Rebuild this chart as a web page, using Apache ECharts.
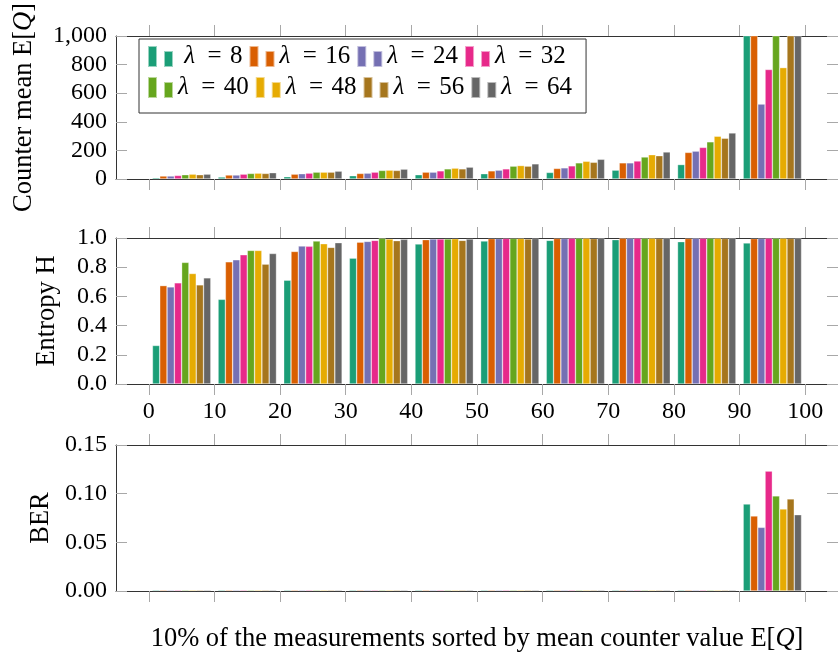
<!DOCTYPE html>
<html>
<head>
<meta charset="utf-8">
<script src="https://cdn.jsdelivr.net/npm/echarts@6/dist/echarts.min.js"></script>
<style>
  html, body { margin: 0; padding: 0; background: #fff; }
  #chart { width: 838px; height: 656px; }
</style>
</head>
<body>
<div id="chart"></div>
<script>
// Bin centres on the x axis (each bin holds 10% of the measurements)
const binCenters = [5, 15, 25, 35, 45, 55, 65, 75, 85, 95];
const lambdas = [8, 16, 24, 32, 40, 48, 56, 64];
const xTicks = [0, 10, 20, 30, 40, 50, 60, 70, 80, 90, 100];

// Counter mean E[Q] per lambda (last bin exceeds the axis for several lambdas)
const meanL8  = [9, 14, 16, 23, 30, 37, 46, 62, 101, 1930];
const meanL16 = [21, 28, 34, 39, 48, 57, 74, 113, 186, 1640];
const meanL24 = [21, 28, 37, 41, 48, 62, 78, 113, 195, 524];
const meanL32 = [25, 34, 41, 48, 57, 71, 92, 126, 221, 766];
const meanL40 = [30, 39, 48, 60, 71, 90, 113, 154, 260, 1480];
const meanL48 = [34, 41, 48, 62, 76, 94, 124, 170, 299, 779];
const meanL56 = [30, 39, 48, 60, 71, 90, 117, 163, 285, 1260];
const meanL64 = [34, 44, 55, 69, 83, 106, 138, 189, 322, 1350];

// Entropy H per lambda
const entL8  = [0.264, 0.580, 0.711, 0.862, 0.959, 0.979, 0.984, 0.989, 0.975, 0.966];
const entL16 = [0.674, 0.837, 0.908, 0.972, 0.989, 0.996, 0.997, 0.998, 0.997, 0.996];
const entL24 = [0.665, 0.851, 0.945, 0.977, 0.993, 0.996, 0.997, 0.998, 0.998, 0.997];
const entL32 = [0.693, 0.885, 0.943, 0.984, 0.993, 0.997, 0.998, 0.998, 0.998, 0.998];
const entL40 = [0.833, 0.915, 0.979, 0.998, 0.994, 0.997, 0.998, 0.998, 0.998, 0.998];
const entL48 = [0.757, 0.915, 0.961, 0.993, 0.995, 0.997, 0.998, 0.998, 0.998, 0.998];
const entL56 = [0.679, 0.821, 0.936, 0.982, 0.984, 0.994, 0.996, 0.997, 0.997, 0.997];
const entL64 = [0.727, 0.894, 0.968, 0.991, 0.994, 0.997, 0.998, 0.998, 0.998, 0.998];

// Bit error rate per lambda
const berL8  = [0, 0, 0, 0, 0, 0, 0, 0, 0, 0.0894];
const berL16 = [0, 0, 0, 0, 0, 0, 0, 0, 0, 0.0771];
const berL24 = [0, 0, 0, 0, 0, 0, 0, 0, 0, 0.0654];
const berL32 = [0, 0, 0, 0, 0, 0, 0, 0, 0, 0.1232];
const berL40 = [0, 0, 0, 0, 0, 0, 0, 0, 0, 0.0977];
const berL48 = [0, 0, 0, 0, 0, 0, 0, 0, 0, 0.0843];
const berL56 = [0, 0, 0, 0, 0, 0, 0, 0, 0, 0.0946];
const berL64 = [0, 0, 0, 0, 0, 0, 0, 0, 0, 0.0784];

const meanSeries = [meanL8, meanL16, meanL24, meanL32, meanL40, meanL48, meanL56, meanL64];
const entSeries = [entL8, entL16, entL24, entL32, entL40, entL48, entL56, entL64];
const berSeries = [berL8, berL16, berL24, berL32, berL40, berL48, berL56, berL64];

// ColorBrewer Dark2
const palette = ['#1b9e77', '#d95f02', '#7570b3', '#e7298a', '#66a61e', '#e6ab02', '#a6761d', '#666666'];

const FONT = 'Liberation Serif';
const FS = 24;      // tick labels
const NFS = 26.5;   // axis titles
const LFS = 25;     // legend entries
const LINE = '#333';
const TICK = '#a8a8a8';

const names = lambdas.map(l => 'λ = ' + l);

const grids = [
  { left: 116, right: -5, top: 34, height: 145 },
  { left: 116, right: -5, top: 238, height: 146 },
  { left: 116, right: -5, top: 445, height: 146 }
];

const italicQ = { q: { fontFamily: FONT, fontSize: NFS, fontStyle: 'italic', color: '#000' } };

function xAxes(gridIndex, showLabels, name) {
  const base = {
    gridIndex, type: 'value', min: -5, max: 105,
    splitLine: { show: false },
    axisLine: { show: true, onZero: false, lineStyle: { color: LINE, width: 1 } },
    axisTick: { show: true, inside: false, length: 11, customValues: xTicks, lineStyle: { color: TICK, width: 1 } }
  };
  const bottom = Object.assign({}, base, {
    position: 'bottom',
    axisLabel: {
      show: showLabels, customValues: xTicks, margin: 16,
      fontFamily: FONT, fontSize: FS, color: '#000'
    }
  });
  if (name) {
    Object.assign(bottom, {
      name: name, nameLocation: 'middle', nameGap: 35,
      nameTextStyle: { fontFamily: FONT, fontSize: NFS, color: '#000', rich: italicQ }
    });
  }
  const top = Object.assign({}, base, { position: 'top', axisLabel: { show: false } });
  return [bottom, top];
}

function yAxes(gridIndex, max, interval, fmt, name, nameGap) {
  const base = {
    gridIndex, type: 'value', min: 0, max: max, interval: interval,
    splitLine: { show: false },
    axisLine: { show: true, onZero: false, lineStyle: { color: LINE, width: 1 } },
    axisTick: { show: true, inside: true, length: 11, lineStyle: { color: TICK, width: 1 } }
  };
  const left = Object.assign({}, base, {
    position: 'left',
    axisLabel: { show: true, margin: 9, fontFamily: FONT, fontSize: FS, color: '#000', formatter: fmt },
    name: name, nameLocation: 'middle', nameRotate: 90, nameGap: nameGap,
    nameTextStyle: { fontFamily: FONT, fontSize: NFS, color: '#000', rich: italicQ }
  });
  const right = Object.assign({}, base, { position: 'right', axisLabel: { show: false } });
  return [left, right];
}

function barSeries(values, panel, extra) {
  return values.map((arr, k) => Object.assign({
    name: names[k],
    type: 'bar',
    xAxisIndex: panel * 2,
    yAxisIndex: panel * 2,
    barWidth: 7.3,
    barGap: '0%',
    itemStyle: { color: palette[k], borderColor: 'rgba(255,255,255,0.55)', borderWidth: 0.6 },
    data: binCenters.map((c, i) => [c, arr[i]]),
    silent: true,
    animation: false
  }, extra || {}));
}

const chart = echarts.init(document.getElementById('chart'), null, { renderer: 'canvas' });

chart.setOption({
  animation: false,
  backgroundColor: '#fff',
  textStyle: { fontFamily: FONT },
  grid: grids,
  xAxis: [
    ...xAxes(0, false),
    ...xAxes(1, true),
    ...xAxes(2, false, '10% of the measurements sorted by mean counter value E[{q|Q}]')
  ],
  yAxis: [
    ...yAxes(0, 1000, 200, v => v.toLocaleString('en-US'), 'Counter mean E[{q|Q}]', 78),
    ...yAxes(1, 1, 0.2, v => v.toFixed(1), 'Entropy H', 55),
    ...yAxes(2, 0.15, 0.05, v => v.toFixed(2), 'BER', 60)
  ],
  legend: {
    data: names,
    left: 139,
    top: 39,
    width: 450,
    orient: 'horizontal',
    padding: [5, 14, 13, 8],
    itemGap: 6,
    itemWidth: 25,
    itemHeight: 21,
    borderColor: LINE,
    borderWidth: 1,
    backgroundColor: '#fff',
    selectedMode: false,
    icon: 'path://M0,0H9V21H0Z M16,5H25V21H16Z',
    formatter: n => {
      const num = n.split('= ')[1];
      // math-style spacing around '=', single-digit entry shifted to sit centred in its column
      const lead = num.length === 1 ? '\u2005' : '';
      return lead + '{l|λ}\u2002=\u2004' + num;
    },
    textStyle: {
      fontFamily: FONT, fontSize: LFS, color: '#000',
      rich: {
        l: { fontStyle: 'italic', fontFamily: FONT, fontSize: LFS, color: '#000' }
      }
    }
  },
  series: [
    ...barSeries(meanSeries, 0),
    ...barSeries(entSeries, 1),
    ...barSeries(berSeries, 2, { barMinHeight: 1 })
  ]
});
</script>
</body>
</html>
